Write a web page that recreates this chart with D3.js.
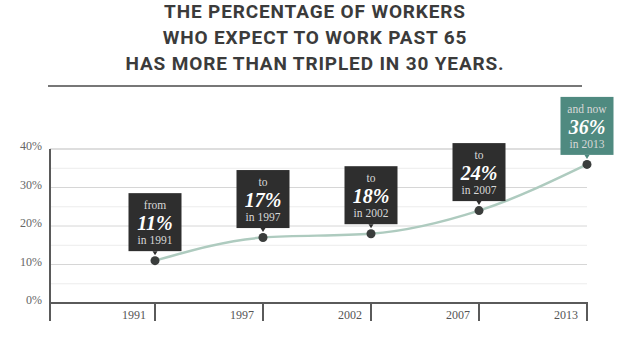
<!DOCTYPE html>
<html>
<head>
<meta charset="utf-8">
<script src="https://cdn.jsdelivr.net/npm/d3@7/dist/d3.min.js"></script>
<style>
  html, body { margin: 0; padding: 0; background: #fff; }
  svg { display: block; }
  .serif { font-family: "Liberation Serif", "DejaVu Serif", serif; }
</style>
</head>
<body>
<svg id="chart" width="640" height="338"></svg>
<script>
// Survey years and share of workers expecting to work past 65
const years = ["1991", "1997", "2002", "2007", "2013"];
const percents = [11, 17, 18, 24, 36];
const leadWords = ["from", "to", "to", "to", "and now"];
const yTicks = [0, 10, 20, 30, 40];
const titleLines = [
  "THE PERCENTAGE OF WORKERS",
  "WHO EXPECT TO WORK PAST 65",
  "HAS MORE THAN TRIPLED IN 30 YEARS."
];

const svg = d3.select("#chart");

// Title, letter-spaced so the first line spans about 300px
const title = svg.append("g").selectAll("text").data(titleLines).join("text")
  .attr("x", 315)
  .attr("y", (d, i) => 18 + i * 26)
  .attr("text-anchor", "middle")
  .style("font-family", "Roboto, 'Open Sans', sans-serif")
  .attr("font-weight", 700)
  .attr("font-size", 19)
  .attr("fill", "#3b3b3b")
  .text(d => d);
const firstW = title.node().getComputedTextLength();
const spacing = Math.max(0, (301 - firstW) / (titleLines[0].length - 1));
title.style("letter-spacing", spacing + "px");

svg.append("line")
  .attr("x1", 48).attr("x2", 582).attr("y1", 86).attr("y2", 86)
  .attr("stroke", "#777").attr("stroke-width", 2);

// Scales
const x = d3.scaleBand().domain(years).range([47, 587]);
const y = d3.scaleLinear().domain([0, 40]).range([303, 149]);
const px = d => x(d) + x.bandwidth();
const left = 50, right = 587;

// Gridlines: light half-steps, darker whole steps
const minor = d3.range(5, 40, 10);
svg.append("g").selectAll("line").data(minor).join("line")
  .attr("x1", left).attr("x2", right)
  .attr("y1", d => y(d)).attr("y2", d => y(d))
  .attr("stroke", "#ececec").attr("stroke-width", 1);
svg.append("g").selectAll("line").data(yTicks.filter(d => d > 0)).join("line")
  .attr("x1", left).attr("x2", right)
  .attr("y1", d => y(d)).attr("y2", d => y(d))
  .attr("stroke", d => d === 40 ? "#bdbdbd" : "#d6d6d6").attr("stroke-width", 1);

// Y axis labels
svg.append("g").selectAll("text").data(yTicks).join("text")
  .attr("class", "serif")
  .attr("x", 42)
  .attr("y", d => y(d) + 1)
  .attr("text-anchor", "end")
  .attr("font-size", 12)
  .attr("fill", "#666")
  .text(d => d + "%");

// Axes
svg.append("line")
  .attr("x1", left).attr("x2", left).attr("y1", 149).attr("y2", 321)
  .attr("stroke", "#5a5a5a").attr("stroke-width", 2);
svg.append("line")
  .attr("x1", left).attr("x2", right + 1).attr("y1", y(0)).attr("y2", y(0))
  .attr("stroke", "#5a5a5a").attr("stroke-width", 2);
svg.append("g").selectAll("line").data(years).join("line")
  .attr("x1", d => px(d)).attr("x2", d => px(d))
  .attr("y1", y(0)).attr("y2", 321)
  .attr("stroke", "#5a5a5a").attr("stroke-width", 2);
svg.append("g").selectAll("text").data(years).join("text")
  .attr("class", "serif")
  .attr("x", d => px(d) - 9)
  .attr("y", 319)
  .attr("text-anchor", "end")
  .attr("font-size", 12)
  .attr("fill", "#555")
  .text(d => d);

// Trend line
const pts = years.map((yr, i) => ({ yr, v: percents[i], lead: leadWords[i], last: i === years.length - 1 }));
const line = d3.line().x(d => px(d.yr)).y(d => y(d.v)).curve(d3.curveMonotoneX);
svg.append("path").datum(pts)
  .attr("d", line)
  .attr("fill", "none")
  .attr("stroke", "#aecbbf")
  .attr("stroke-width", 2.5);

// Points
svg.append("g").selectAll("circle").data(pts).join("circle")
  .attr("cx", d => px(d.yr)).attr("cy", d => y(d.v))
  .attr("r", 4.5)
  .attr("fill", "#3a3d3c");

// Callout boxes
const bw = 53, bh = 58;
const callouts = svg.append("g").selectAll("g").data(pts).join("g")
  .attr("transform", d => `translate(${px(d.yr)},${y(d.v) - 9.5 - bh})`);

callouts.append("rect")
  .attr("x", -bw / 2).attr("y", 0)
  .attr("width", bw).attr("height", bh)
  .attr("fill", d => d.last ? "#4f8a80" : "#2e2e2e");
callouts.append("path")
  .attr("d", `M-2.5,${bh} L2.5,${bh} L0,${bh + 4} Z`)
  .attr("fill", d => d.last ? "#4f8a80" : "#2e2e2e");
callouts.append("text")
  .attr("class", "serif")
  .attr("y", 16).attr("text-anchor", "middle")
  .attr("font-size", 11.5)
  .attr("fill", "#d8d8d8")
  .text(d => d.lead);
callouts.append("text")
  .attr("class", "serif")
  .attr("y", 37).attr("text-anchor", "middle")
  .attr("font-size", 20)
  .attr("font-weight", 700).attr("font-style", "italic")
  .attr("fill", "#fff")
  .text(d => d.v + "%");
callouts.append("text")
  .attr("class", "serif")
  .attr("y", 51).attr("text-anchor", "middle")
  .attr("font-size", 11.5)
  .attr("fill", "#d8d8d8")
  .text(d => "in " + d.yr);
</script>
</body>
</html>
